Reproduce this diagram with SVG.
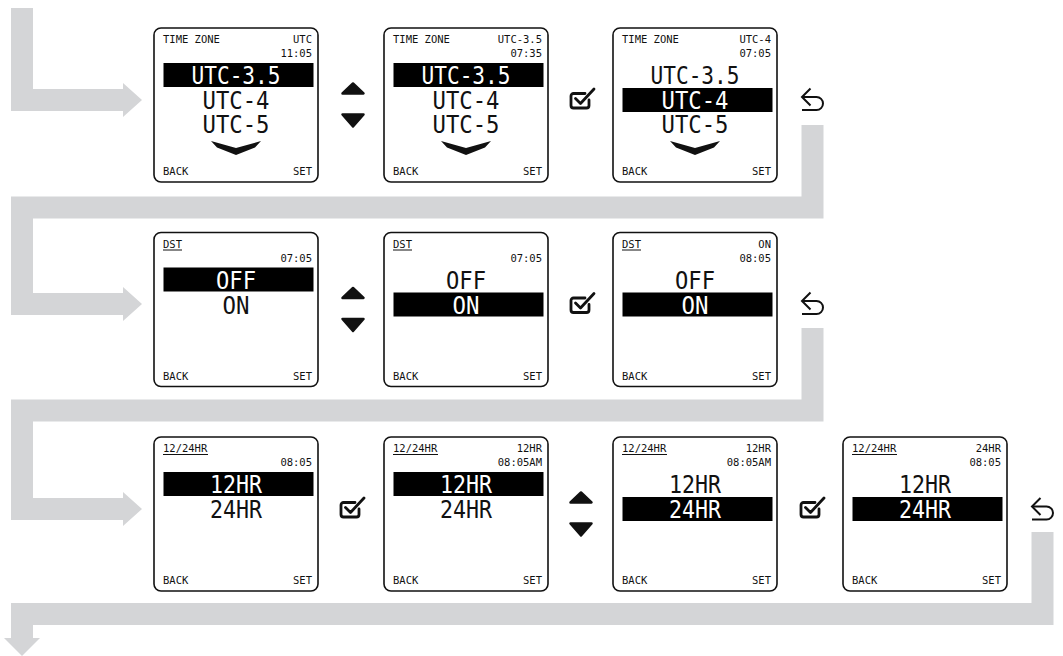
<svg xmlns="http://www.w3.org/2000/svg" xmlns:xlink="http://www.w3.org/1999/xlink" width="1063" height="656" viewBox="0 0 1063 656">
<style>
.flow{fill:none;stroke:#d4d5d7;stroke-width:22;stroke-linejoin:miter;stroke-linecap:butt}
.head{fill:#d4d5d7}
.scr{fill:#fff;stroke:#111;stroke-width:1.6}
.sm{font-family:"DejaVu Sans Mono","Liberation Mono",monospace;font-size:10.5px;fill:#111}
.end{text-anchor:end}
.big{font-family:"DejaVu Sans Mono","Liberation Mono",monospace;font-size:25px;text-anchor:middle;fill:#111}
.inv{fill:#fff}
.bar{fill:#000}
.ul{stroke:#111;stroke-width:1}
.ico{fill:none;stroke:#111;stroke-width:2.8;stroke-linecap:round;stroke-linejoin:round}
.tri{fill:#111;stroke:#111;stroke-width:2.5;stroke-linejoin:round}
</style>
<defs>
<g id="updown"><polygon class="tri" points="0,-21.5 10.5,-11.5 -10.5,-11.5"/><polygon class="tri" points="-10.5,9.5 10.5,9.5 0,21.5"/></g>
<g id="check"><path class="ico" d="M5,-6.5 H-6.5 a2.5,2.5 0 0 0 -2.5,2.5 V5.5 a2.5,2.5 0 0 0 2.5,2.5 H6.5 a2.5,2.5 0 0 0 2.5,-2.5 V0"/><polyline class="ico" points="-4.5,-1.5 0.5,3.5 14,-11"/></g>
<g id="back"><path fill="none" stroke="#111" stroke-width="2" d="M-10.5,-3 H4 A6.5,6.5 0 0 1 4,10 H-10.5"/><polyline fill="none" stroke="#111" stroke-width="2" points="-2,-11.5 -10.5,-3 -2,5.5"/></g>
<polygon id="chev" points="-25,113 0,120 25,113 19,119.5 0,127 -19,119.5" fill="#111"/>
</defs>

<g id="connectors">
<path class="flow" d="M22,8 V100 H124"/>
<polygon class="head" points="123,83 142,100 123,117"/>
<path class="flow" d="M812.5,125 V207.5 H22 V304 H124"/>
<polygon class="head" points="123,287 142,304 123,321"/>
<path class="flow" d="M812.5,328 V410.5 H22 V509 H124"/>
<polygon class="head" points="123,492 142,509 123,526"/>
<path class="flow" d="M1042.5,532 V614 H22 V639"/>
<polygon class="head" points="4,638 40,638 22,656"/>
</g>

<g id="icons">
<use href="#updown" x="353" y="105"/>
<use href="#check" x="580" y="100"/>
<use href="#back" x="812.5" y="100"/>
<use href="#updown" x="353" y="309.5"/>
<use href="#check" x="580" y="304.5"/>
<use href="#back" x="812.5" y="304"/>
<use href="#check" x="350" y="509"/>
<use href="#updown" x="581" y="514"/>
<use href="#check" x="810" y="509"/>
<use href="#back" x="1042.5" y="509.5"/>
</g>

<g id="tz1" transform="translate(154,28)">
<rect class="scr" x="0" y="0" width="164" height="154" rx="7"/>
<text class="sm" x="9" y="15">TIME ZONE</text>
<text class="sm end" x="158" y="15">UTC</text>
<text class="sm end" x="158" y="29">11:05</text>
<rect class="bar" x="9.5" y="35" width="150" height="24"/>
<text class="big inv" x="82" y="56" textLength="89" lengthAdjust="spacingAndGlyphs">UTC-3.5</text>
<text class="big" x="82" y="81" textLength="67" lengthAdjust="spacingAndGlyphs">UTC-4</text>
<text class="big" x="82" y="105" textLength="67" lengthAdjust="spacingAndGlyphs">UTC-5</text>
<use href="#chev" x="82" y="0"/>
<text class="sm" x="9" y="147">BACK</text>
<text class="sm end" x="158" y="147">SET</text>
</g>

<g id="tz2" transform="translate(384,28)">
<rect class="scr" x="0" y="0" width="164" height="154" rx="7"/>
<text class="sm" x="9" y="15">TIME ZONE</text>
<text class="sm end" x="158" y="15">UTC-3.5</text>
<text class="sm end" x="158" y="29">07:35</text>
<rect class="bar" x="9.5" y="35" width="150" height="24"/>
<text class="big inv" x="82" y="56" textLength="89" lengthAdjust="spacingAndGlyphs">UTC-3.5</text>
<text class="big" x="82" y="81" textLength="67" lengthAdjust="spacingAndGlyphs">UTC-4</text>
<text class="big" x="82" y="105" textLength="67" lengthAdjust="spacingAndGlyphs">UTC-5</text>
<use href="#chev" x="82" y="0"/>
<text class="sm" x="9" y="147">BACK</text>
<text class="sm end" x="158" y="147">SET</text>
</g>

<g id="tz3" transform="translate(613,28)">
<rect class="scr" x="0" y="0" width="164" height="154" rx="7"/>
<text class="sm" x="9" y="15">TIME ZONE</text>
<text class="sm end" x="158" y="15">UTC-4</text>
<text class="sm end" x="158" y="29">07:05</text>
<text class="big" x="82" y="56" textLength="89" lengthAdjust="spacingAndGlyphs">UTC-3.5</text>
<rect class="bar" x="9.5" y="60" width="150" height="24"/>
<text class="big inv" x="82" y="81" textLength="67" lengthAdjust="spacingAndGlyphs">UTC-4</text>
<text class="big" x="82" y="105" textLength="67" lengthAdjust="spacingAndGlyphs">UTC-5</text>
<use href="#chev" x="82" y="0"/>
<text class="sm" x="9" y="147">BACK</text>
<text class="sm end" x="158" y="147">SET</text>
</g>

<g id="dst1" transform="translate(154,232.5)">
<rect class="scr" x="0" y="0" width="164" height="154" rx="7"/>
<text class="sm" x="9" y="15">DST</text>
<line class="ul" x1="9" y1="17.5" x2="28" y2="17.5"/>
<text class="sm end" x="158" y="29">07:05</text>
<rect class="bar" x="9.5" y="35" width="150" height="24"/>
<text class="big inv" x="82" y="56" textLength="40" lengthAdjust="spacingAndGlyphs">OFF</text>
<text class="big" x="82" y="81" textLength="27" lengthAdjust="spacingAndGlyphs">ON</text>
<text class="sm" x="9" y="147">BACK</text>
<text class="sm end" x="158" y="147">SET</text>
</g>

<g id="dst2" transform="translate(384,232.5)">
<rect class="scr" x="0" y="0" width="164" height="154" rx="7"/>
<text class="sm" x="9" y="15">DST</text>
<line class="ul" x1="9" y1="17.5" x2="28" y2="17.5"/>
<text class="sm end" x="158" y="29">07:05</text>
<text class="big" x="82" y="56" textLength="40" lengthAdjust="spacingAndGlyphs">OFF</text>
<rect class="bar" x="9.5" y="60" width="150" height="24"/>
<text class="big inv" x="82" y="81" textLength="27" lengthAdjust="spacingAndGlyphs">ON</text>
<text class="sm" x="9" y="147">BACK</text>
<text class="sm end" x="158" y="147">SET</text>
</g>

<g id="dst3" transform="translate(613,232.5)">
<rect class="scr" x="0" y="0" width="164" height="154" rx="7"/>
<text class="sm" x="9" y="15">DST</text>
<line class="ul" x1="9" y1="17.5" x2="28" y2="17.5"/>
<text class="sm end" x="158" y="15">ON</text>
<text class="sm end" x="158" y="29">08:05</text>
<text class="big" x="82" y="56" textLength="40" lengthAdjust="spacingAndGlyphs">OFF</text>
<rect class="bar" x="9.5" y="60" width="150" height="24"/>
<text class="big inv" x="82" y="81" textLength="27" lengthAdjust="spacingAndGlyphs">ON</text>
<text class="sm" x="9" y="147">BACK</text>
<text class="sm end" x="158" y="147">SET</text>
</g>

<g id="hr1" transform="translate(154,437)">
<rect class="scr" x="0" y="0" width="164" height="154" rx="7"/>
<text class="sm" x="9" y="15">12/24HR</text>
<line class="ul" x1="9" y1="17.5" x2="54" y2="17.5"/>
<text class="sm end" x="158" y="29">08:05</text>
<rect class="bar" x="9.5" y="35" width="150" height="24"/>
<text class="big inv" x="82" y="56" textLength="52" lengthAdjust="spacingAndGlyphs">12HR</text>
<text class="big" x="82" y="81" textLength="52" lengthAdjust="spacingAndGlyphs">24HR</text>
<text class="sm" x="9" y="147">BACK</text>
<text class="sm end" x="158" y="147">SET</text>
</g>

<g id="hr2" transform="translate(384,437)">
<rect class="scr" x="0" y="0" width="164" height="154" rx="7"/>
<text class="sm" x="9" y="15">12/24HR</text>
<line class="ul" x1="9" y1="17.5" x2="54" y2="17.5"/>
<text class="sm end" x="158" y="15">12HR</text>
<text class="sm end" x="158" y="29">08:05AM</text>
<rect class="bar" x="9.5" y="35" width="150" height="24"/>
<text class="big inv" x="82" y="56" textLength="52" lengthAdjust="spacingAndGlyphs">12HR</text>
<text class="big" x="82" y="81" textLength="52" lengthAdjust="spacingAndGlyphs">24HR</text>
<text class="sm" x="9" y="147">BACK</text>
<text class="sm end" x="158" y="147">SET</text>
</g>

<g id="hr3" transform="translate(613,437)">
<rect class="scr" x="0" y="0" width="164" height="154" rx="7"/>
<text class="sm" x="9" y="15">12/24HR</text>
<line class="ul" x1="9" y1="17.5" x2="54" y2="17.5"/>
<text class="sm end" x="158" y="15">12HR</text>
<text class="sm end" x="158" y="29">08:05AM</text>
<text class="big" x="82" y="56" textLength="52" lengthAdjust="spacingAndGlyphs">12HR</text>
<rect class="bar" x="9.5" y="60" width="150" height="24"/>
<text class="big inv" x="82" y="81" textLength="52" lengthAdjust="spacingAndGlyphs">24HR</text>
<text class="sm" x="9" y="147">BACK</text>
<text class="sm end" x="158" y="147">SET</text>
</g>

<g id="hr4" transform="translate(843,437)">
<rect class="scr" x="0" y="0" width="164" height="154" rx="7"/>
<text class="sm" x="9" y="15">12/24HR</text>
<line class="ul" x1="9" y1="17.5" x2="54" y2="17.5"/>
<text class="sm end" x="158" y="15">24HR</text>
<text class="sm end" x="158" y="29">08:05</text>
<text class="big" x="82" y="56" textLength="52" lengthAdjust="spacingAndGlyphs">12HR</text>
<rect class="bar" x="9.5" y="60" width="150" height="24"/>
<text class="big inv" x="82" y="81" textLength="52" lengthAdjust="spacingAndGlyphs">24HR</text>
<text class="sm" x="9" y="147">BACK</text>
<text class="sm end" x="158" y="147">SET</text>
</g>
</svg>
